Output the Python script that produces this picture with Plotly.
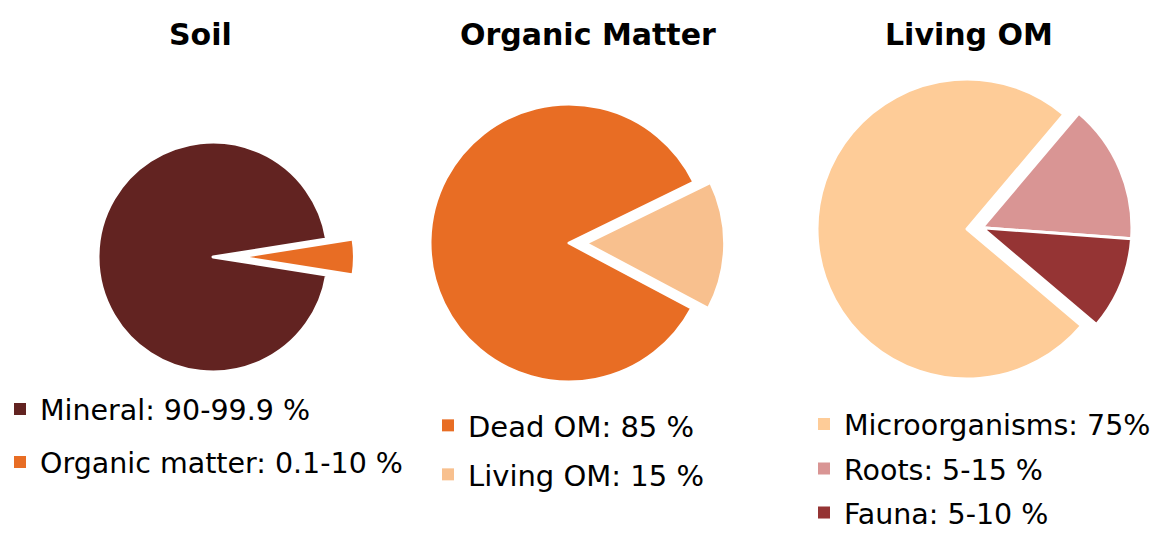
import plotly.graph_objects as go

W, H = 1160, 533

# ---- data ----
soil_labels = ["Mineral: 90-99.9 %", "Organic matter: 0.1-10 %"]
soil_values = [95, 5]
om_labels = ["Dead OM: 85 %", "Living OM: 15 %"]
om_values = [85, 15]
liv_labels = ["Microorganisms: 75%", "Roots: 5-15 %", "Fauna: 5-10 %"]
liv_values = [75, 15, 10]
titles = ["Soil", "Organic Matter", "Living OM"]

# ---- styles ----
soil_colors = ["#622321", "#E86D24"]
om_colors = ["#E86D24", "#F8C08E"]
liv_colors = ["#FECC98", "#D99594", "#953434"]
CLEAR = "rgba(0,0,0,0)"
FONT = "DejaVu Sans"


def domain(cx, cy, r, pull=0.0):
    half = r * (1 + pull)
    return dict(x=[(cx - half) / W, (cx + half) / W],
                y=[1 - (cy + half) / H, 1 - (cy - half) / H])


fig = go.Figure()

fig.add_trace(go.Pie(
    labels=soil_labels, values=soil_values, sort=False, direction="clockwise",
    rotation=99, pull=[0, 0.23], textinfo="none", hoverinfo="label",
    showlegend=False,
    marker=dict(colors=soil_colors, line=dict(color="white", width=3)),
    domain=domain(213, 257, 115, 0.23)))

fig.add_trace(go.Pie(
    labels=om_labels, values=om_values, sort=False, direction="clockwise",
    rotation=118, pull=[0, 0.12], textinfo="none", hoverinfo="label",
    showlegend=False,
    marker=dict(colors=om_colors, line=dict(color="white", width=3)),
    domain=domain(569, 243, 139, 0.12)))

# Living OM: main disc (microorganisms) + group (roots & fauna) exploded together
fig.add_trace(go.Pie(
    labels=liv_labels, values=liv_values, sort=False, direction="clockwise",
    rotation=130.2, textinfo="none", hoverinfo="label", showlegend=False,
    marker=dict(colors=[liv_colors[0], CLEAR, CLEAR],
                line=dict(color=["white", CLEAR, CLEAR], width=3)),
    domain=domain(967, 229, 150)))

fig.add_trace(go.Pie(
    labels=liv_labels, values=liv_values, sort=False, direction="clockwise",
    rotation=130.2, textinfo="none", hoverinfo="label", showlegend=False,
    marker=dict(colors=[CLEAR, liv_colors[1], liv_colors[2]],
                line=dict(color=[CLEAR, "white", "white"], width=3)),
    domain=domain(967 + 14.95, 229 - 1.25, 150)))

# ---- legend entries: one legend per entry so spacing matches ----
legend_specs = []  # (labels, values, colors, left x px, centre y px list, font size)
legend_specs.append((soil_labels, soil_values, soil_colors, 0, [409.5, 462.5], 28.5))
legend_specs.append((om_labels, om_values, om_colors, 428, [425.5, 474.5], 29))
legend_specs.append((liv_labels, liv_values, liv_colors, 804, [424.5, 469, 513], 28.5))

layout_legends = {}
k = 0
for labels, values, colors, lx, ys, fs in legend_specs:
    for lab, val, col, yc in zip(labels, values, colors, ys):
        k += 1
        name = "legend" if k == 1 else f"legend{k}"
        fig.add_trace(go.Pie(
            labels=[lab], values=[val], textinfo="none", hoverinfo="skip",
            marker=dict(colors=[col], line=dict(width=0)),
            domain=dict(x=[0, 0.00001], y=[0, 0.00001]),
            showlegend=True, legend=name))
        layout_legends[name] = dict(
            x=lx / W, y=1 - yc / H, xanchor="left", yanchor="middle",
            bgcolor=CLEAR, borderwidth=0, orientation="v",
            font=dict(family=FONT, size=fs, color="#000000"))

title_x = [200, 588, 969]
for t, x in zip(titles, title_x):
    fig.add_annotation(text=f"<b>{t}</b>", x=x / W, y=1 - 34 / H,
                       xref="paper", yref="paper", xanchor="center",
                       yanchor="middle", showarrow=False,
                       font=dict(family=FONT, size=30, color="#000000"))

fig.update_layout(
    width=W, height=H,
    margin=dict(l=0, r=0, t=0, b=0, autoexpand=False),
    paper_bgcolor="white", plot_bgcolor="white",
    **layout_legends,
)

fig.write_html("out.html", config={"displayModeBar": False},
               post_script="document.body.style.margin='0';")
